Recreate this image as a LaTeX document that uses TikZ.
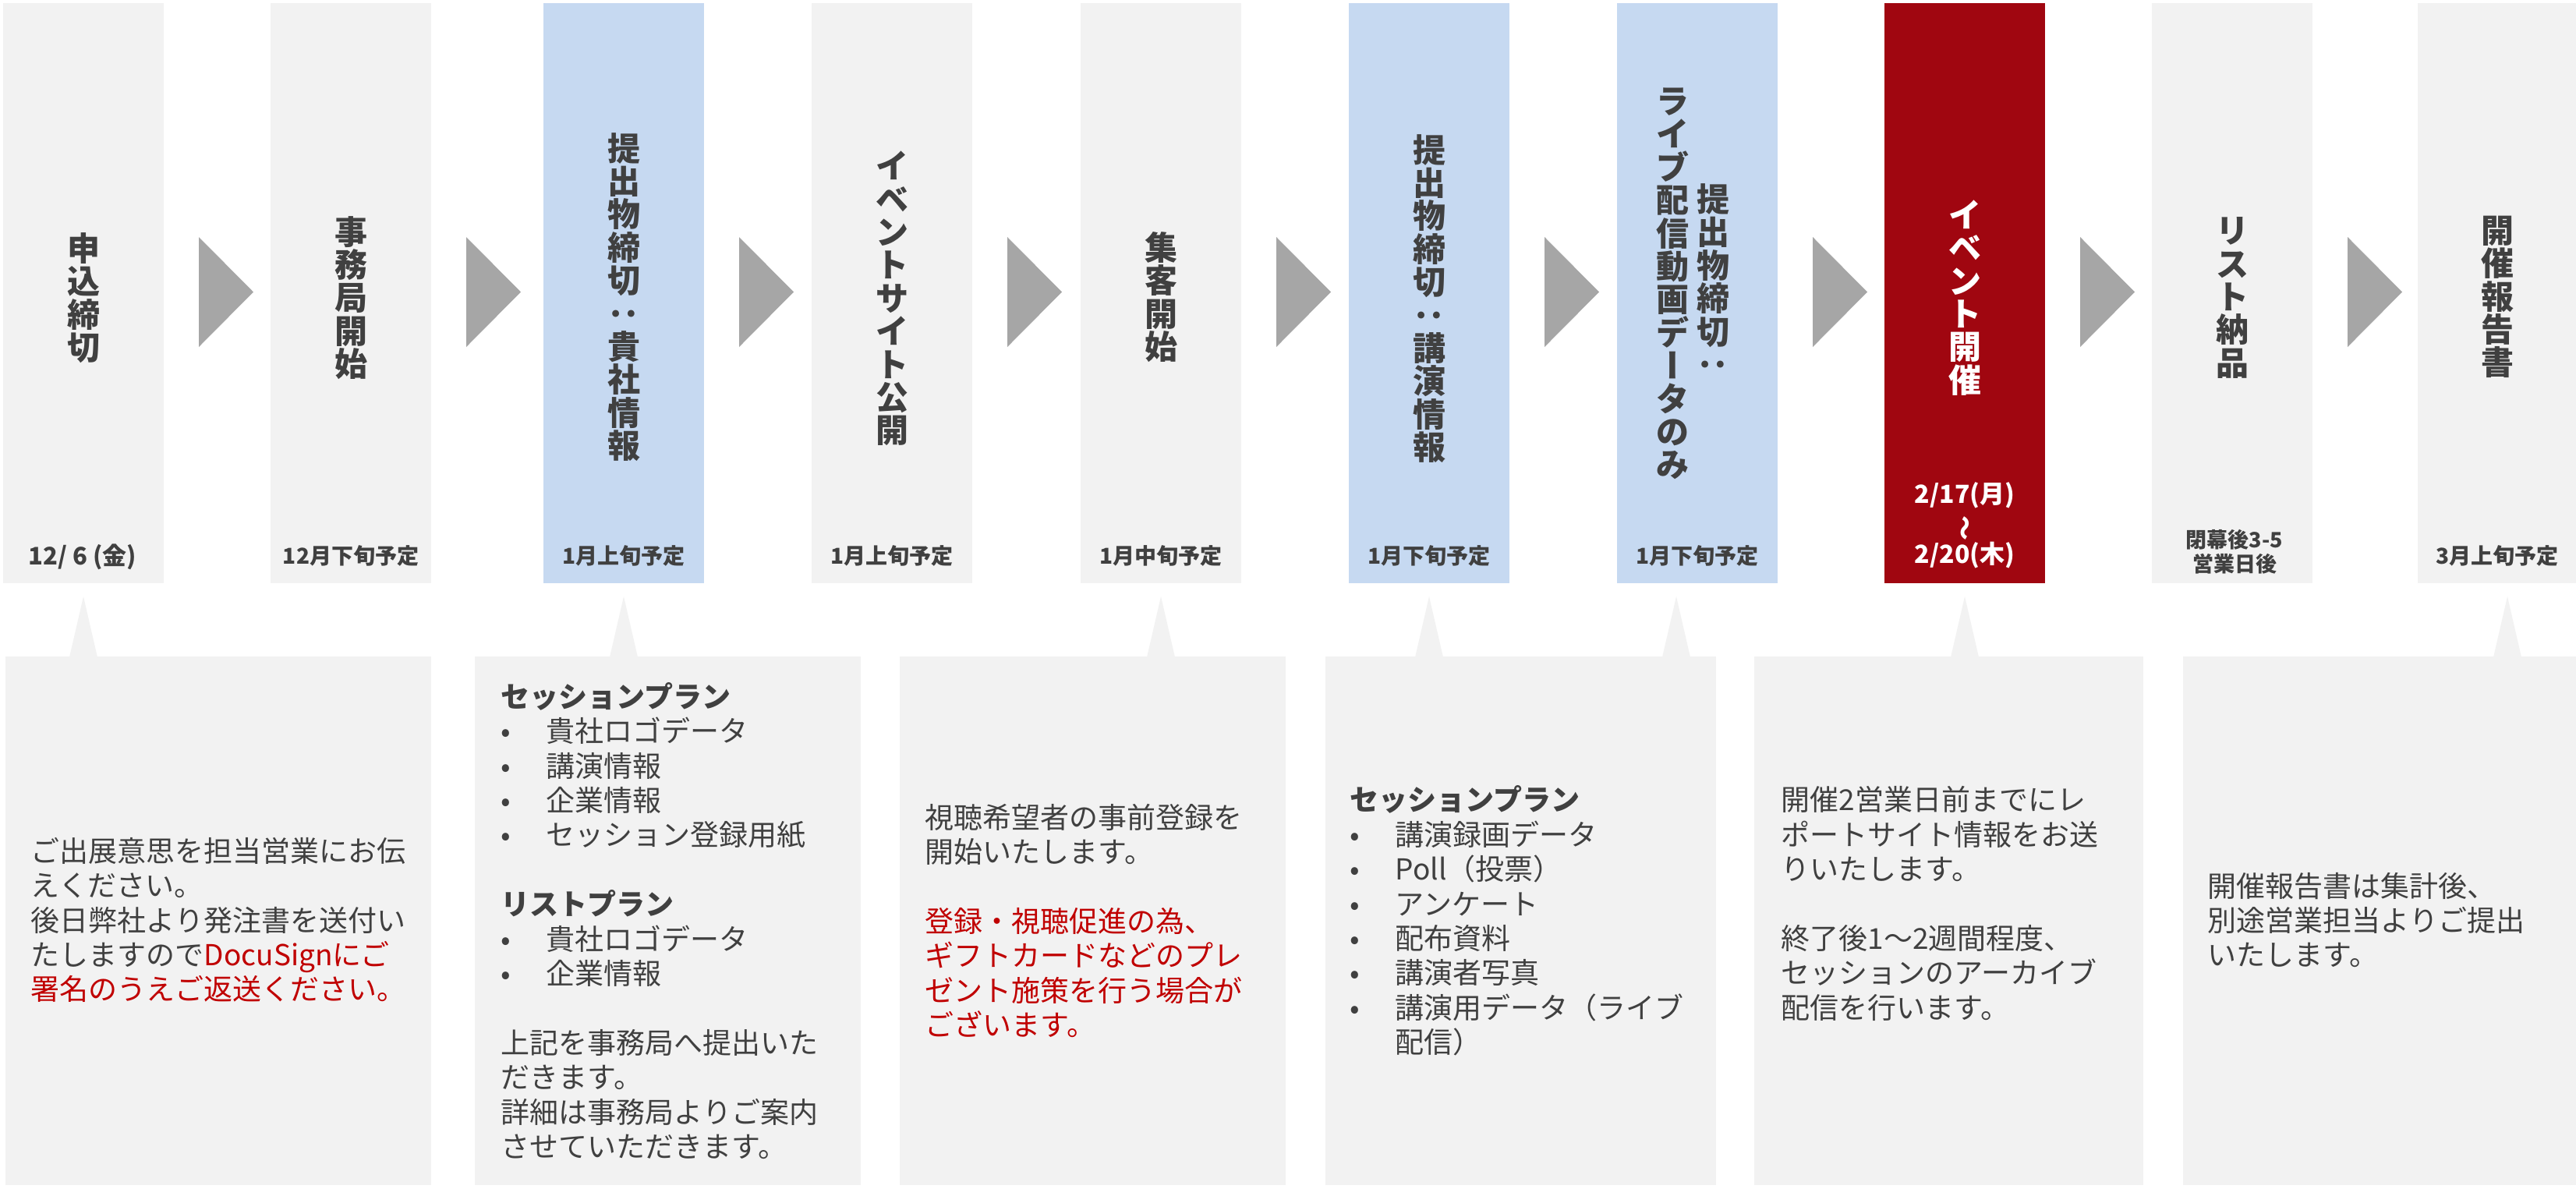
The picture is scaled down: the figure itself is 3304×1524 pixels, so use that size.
\documentclass[tikz,border=0pt]{standalone}
\usepackage{fontspec}
\usepackage{graphicx}
\setmainfont{Noto Sans CJK JP}
\definecolor{colgray}{HTML}{F2F2F2}
\definecolor{colblue}{HTML}{C6D9F1}
\definecolor{colred}{HTML}{A00610}
\definecolor{arrowgray}{HTML}{A6A6A6}
\definecolor{txt}{HTML}{404040}
\definecolor{redtxt}{HTML}{C00000}
\newcommand{\titlefnt}{\bfseries\fontsize{10.5}{10.6}\selectfont}
\newcommand{\datefnt}{\bfseries\fontsize{7}{8}\selectfont}
\newcommand{\bodyfnt}{\fontsize{9.25}{11.1}\selectfont}
\newcommand{\vch}[1]{\rotatebox[origin=c]{90}{\raisebox{0pt}[0.88em][0.12em]{#1}}}
\newcommand{\bul}{\makebox[14.5pt][l]{•}}
\begin{document}
\begin{tikzpicture}[x=0.25pt,y=-0.25pt,
  title/.style={font=\titlefnt, text=txt, align=center, inner sep=0pt},
  datelbl/.style={font=\datefnt, text=txt, inner sep=0pt, align=center},
  bodytxt/.style={font=\bodyfnt, text=txt, align=left, anchor=west, inner sep=0pt},
]
\useasboundingbox (0,0) rectangle (3304,1524);
\fill[white] (0,0) rectangle (3304,1524);

% timeline columns
\foreach \L/\C in {4/colgray,347/colgray,697/colblue,1041/colgray,1386/colgray,1730/colblue,2074/colblue,2417/colred,2760/colgray}
  \fill[\C] (\L,4) rectangle ++(206,744);
\fill[colgray] (3101,4) rectangle (3304,748);

% arrows between columns
\foreach \R in {210,553,903,1247,1592,1936,2280,2623,2966}
  \fill[arrowgray] (\R+45,304) -- (\R+115,374.5) -- (\R+45,445) -- cycle;

% callout boxes and pointers
\foreach \X in {107,800,1489,1833,2150,2520,3216}
  \fill[colgray] (\X-18,843) -- (\X,765) -- (\X+18,843) -- cycle;
\fill[colgray] (7,842) rectangle (553,1520);
\fill[colgray] (609,842) rectangle (1104,1520);
\fill[colgray] (1154,842) rectangle (1649,1520);
\fill[colgray] (1700,842) rectangle (2201,1520);
\fill[colgray] (2250,842) rectangle (2749,1520);
\fill[colgray] (2800,842) rectangle (3304,1520);

% vertical titles
\node[title] (t1) at (107,382) {申\\込\\締\\切};
\node[title] (t2) at (450,382) {事\\務\\局\\開\\始};
\node[title] (t3) at (800,381) {提\\出\\物\\締\\切\\\vch{：}\\貴\\社\\情\\報};
\node[title] (t4) at (1144,383) {イ\\ベ\\ン\\ト\\サ\\イ\\ト\\公\\開};
\node[title] (t5) at (1489,381) {集\\客\\開\\始};
\node[title] (t6) at (1833,383) {提\\出\\物\\締\\切\\\vch{：}\\講\\演\\情\\報};
\node[title] (t7a) at (2197,362) {提\\出\\物\\締\\切\\\vch{：}};
\node[title] (t7b) at (2145,364) {ラ\\イ\\ブ\\配\\信\\動\\画\\デ\\\vch{ー}\\タ\\の\\み};
\node[title, text=white] (t8) at (2520,382) {イ\\ベ\\ン\\ト\\開\\催};
\node[title] (t9) at (2863,382) {リ\\ス\\ト\\納\\品};
\node[title] (t10) at (3203,381) {開\\催\\報\\告\\書};

% dates
\node[datelbl, font=\bfseries\fontsize{7.75}{8}\selectfont] (d1) at (106,714) {12/ 6 (金)};
\node[datelbl] (d2) at (450,713) {12月下旬予定};
\node[datelbl] (d3) at (800,713) {1月上旬予定};
\node[datelbl] (d4) at (1144,713) {1月上旬予定};
\node[datelbl] (d5) at (1489,713) {1月中旬予定};
\node[datelbl] (d6) at (1833,713) {1月下旬予定};
\node[datelbl] (d7) at (2177,713) {1月下旬予定};
\node[datelbl, text=white, font=\bfseries\fontsize{8}{9}\selectfont] (d8a) at (2520,635) {2/17(月)};
\node[datelbl, text=white, font=\bfseries\fontsize{8}{9}\selectfont] (d8b) at (2520,677) {\vch{～}};
\node[datelbl, text=white, font=\bfseries\fontsize{8}{9}\selectfont] (d8c) at (2520,712) {2/20(木)};
\node[datelbl, font=\bfseries\fontsize{6.75}{7.75}\selectfont] (d9) at (2866,708) {閉幕後3-5\\営業日後};
\node[datelbl] (d10) at (3203,713) {3月上旬予定};

% box texts
\node[bodytxt] (b1) at (39,1180) {ご出展意思を担当営業にお伝\\えください。\\後日弊社より発注書を送付い\\たしますので\textcolor{redtxt}{DocuSignにご}\\\textcolor{redtxt}{署名のうえご返送ください。}};
\node[bodytxt] (b2) at (642,1181) {{\bfseries セッションプラン}\\\bul 貴社ロゴデータ\\\bul 講演情報\\\bul 企業情報\\\bul セッション登録用紙\\\mbox{}\\{\bfseries リストプラン}\\\bul 貴社ロゴデータ\\\bul 企業情報\\\mbox{}\\上記を事務局へ提出いた\\だきます。\\詳細は事務局よりご案内\\させていただきます。};
\node[bodytxt] (b3) at (1186,1181) {視聴希望者の事前登録を\\開始いたします。\\\mbox{}\\\textcolor{redtxt}{登録・視聴促進の為、}\\\textcolor{redtxt}{ギフトカードなどのプレ}\\\textcolor{redtxt}{ゼント施策を行う場合が}\\\textcolor{redtxt}{ございます。}};
\node[bodytxt] (b4) at (1731,1181) {{\bfseries セッションプラン}\\\bul 講演録画データ\\\bul Poll（投票）\\\bul アンケート\\\bul 配布資料\\\bul 講演者写真\\\bul 講演用データ（ライブ\\\hspace*{14.5pt}配信）};
\node[bodytxt] (b5) at (2284,1159) {開催2営業日前までにレ\\ポートサイト情報をお送\\りいたします。\\\mbox{}\\終了後1～2週間程度、\\セッションのアーカイブ\\配信を行います。};
\node[bodytxt] (b6) at (2831,1180) {開催報告書は集計後、\\別途営業担当よりご提出\\いたします。};
\end{tikzpicture}
\end{document}
